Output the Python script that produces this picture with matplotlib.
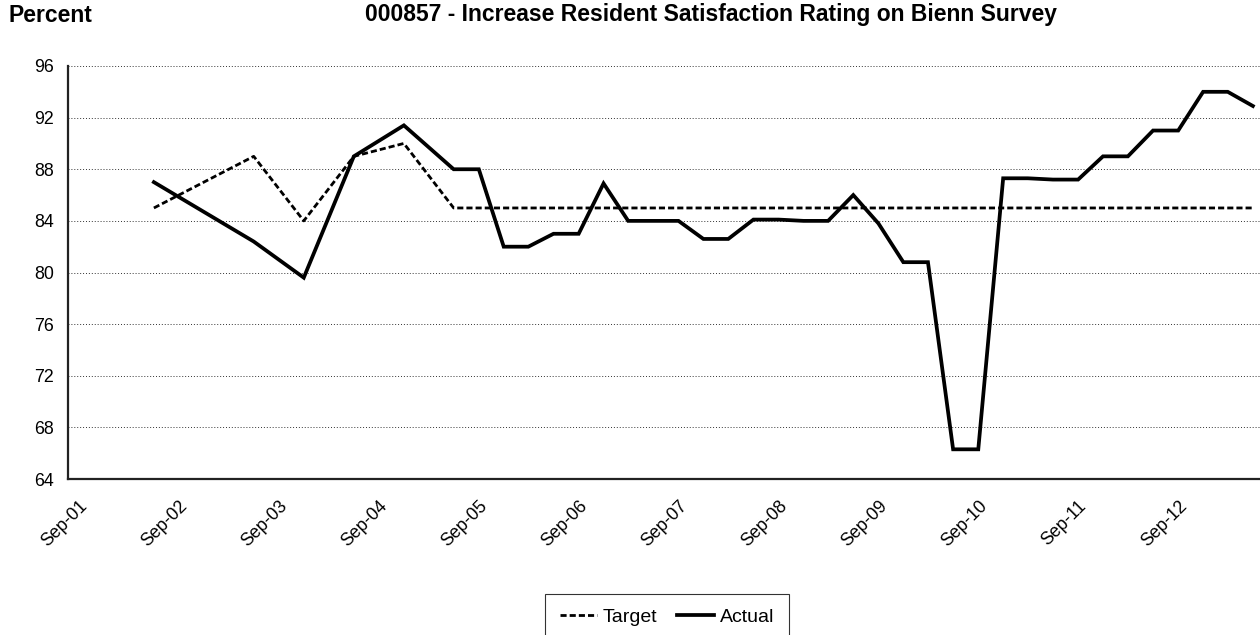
"""Resident satisfaction rating: target vs actual, quarterly survey results."""

import matplotlib

matplotlib.use("Agg")
import matplotlib.pyplot as plt
import numpy as np

plt.rcParams["font.family"] = ["Liberation Sans", "DejaVu Sans"]

# survey dates (semi-annual to mid-2005, quarterly after that)
dates = [
    "2002-06-01", "2003-06-01", "2003-12-01", "2004-06-01", "2004-12-01",
    "2005-06-01", "2005-09-01", "2005-12-01", "2006-03-01", "2006-06-01",
    "2006-09-01", "2006-12-01", "2007-03-01", "2007-06-01", "2007-09-01",
    "2007-12-01", "2008-03-01", "2008-06-01", "2008-09-01", "2008-12-01",
    "2009-03-01", "2009-06-01", "2009-09-01", "2009-12-01", "2010-03-01",
    "2010-06-01", "2010-09-01", "2010-12-01", "2011-03-01", "2011-06-01",
    "2011-09-01", "2011-12-01", "2012-03-01", "2012-06-01", "2012-09-01",
    "2012-12-01", "2013-03-01", "2013-06-01",
]
target = [
    85, 89, 84, 89, 90,
    85, 85, 85, 85, 85,
    85, 85, 85, 85, 85,
    85, 85, 85, 85, 85,
    85, 85, 85, 85, 85,
    85, 85, 85, 85, 85,
    85, 85, 85, 85, 85,
    85, 85, 85,
]
actual = [
    87.0, 82.4, 79.6, 89.0, 91.4,
    88.0, 88.0, 82.0, 82.0, 83.0,
    83.0, 86.9, 84.0, 84.0, 84.0,
    82.6, 82.6, 84.1, 84.1, 84.0,
    84.0, 86.0, 83.8, 80.8, 80.8,
    66.3, 66.3, 87.3, 87.3, 87.2,
    87.2, 89.0, 89.0, 91.0, 91.0,
    94.0, 94.0, 92.9,
]
tick_dates = [f"{year}-09-01" for year in range(2001, 2013)]
tick_labels = [f"Sep-{year % 100:02d}" for year in range(2001, 2013)]
y_ticks = list(range(64, 97, 4))

title = "000857 - Increase Resident Satisfaction Rating on Bienn Survey"


def main() -> None:
    x = np.array(dates, dtype="datetime64[D]")
    fig = plt.figure(figsize=(12.6, 6.35), dpi=100)
    ax = fig.add_axes([68 / 1260, 1 - 479 / 635, 1 - 68 / 1260, 413 / 635])

    ax.plot(x, target, color="black", linewidth=2.0, linestyle=(0, (2.2, 1.1)),
            label="Target", zorder=3)
    ax.plot(x, actual, color="black", linewidth=2.7, label="Actual", zorder=4,
            solid_joinstyle="miter")

    ax.set_ylim(64, 96)
    ax.set_yticks(y_ticks)
    ax.set_xlim(np.datetime64("2001-07-22"), np.datetime64("2013-06-27"))
    ax.set_xticks(np.array(tick_dates, dtype="datetime64[D]"))
    ax.set_xticklabels(tick_labels, rotation=45, ha="right", va="top",
                       rotation_mode="anchor")
    ax.tick_params(axis="both", length=0, labelsize=12.8)
    ax.tick_params(axis="y", pad=10)
    ax.tick_params(axis="x", pad=13)

    ax.grid(axis="y", color="#333333", linestyle=(0, (1, 2)), linewidth=0.7)
    ax.set_axisbelow(True)
    for side in ("top", "right"):
        ax.spines[side].set_visible(False)
    for side in ("left", "bottom"):
        ax.spines[side].set_linewidth(1.6)
        ax.spines[side].set_color("#222222")

    fig.text(8 / 1260, 1 - 15 / 635, "Percent", fontsize=16.5, fontweight="bold",
             ha="left", va="center")
    fig.text(711 / 1260, 1 - 15 / 635, title, fontsize=16.5, fontweight="bold",
             ha="center", va="center")

    legend = fig.legend(
        loc="upper center",
        bbox_to_anchor=(667 / 1260, 1 - 584 / 635),
        ncol=2,
        fontsize=14,
        frameon=True,
        fancybox=False,
        edgecolor="black",
        borderpad=0.75,
        handlelength=1.9,
        handletextpad=0.3,
        columnspacing=1.0,
    )
    legend.get_frame().set_linewidth(0.8)

    fig.savefig("out.png", dpi=100)


if __name__ == "__main__":
    main()
